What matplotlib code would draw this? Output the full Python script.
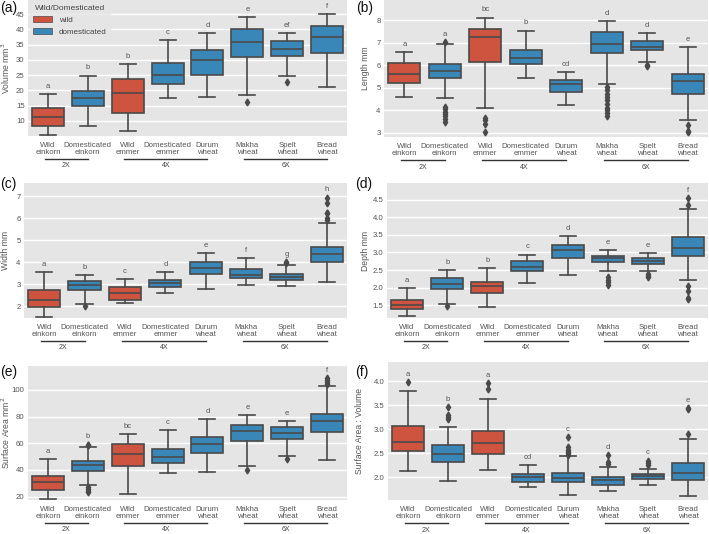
import matplotlib
matplotlib.use("Agg")
import matplotlib.pyplot as plt
import matplotlib.transforms as mtransforms
from matplotlib.patches import Patch


CATEGORIES = [
    "Wild\neinkorn", "Domesticated\neinkorn", "Wild\nemmer", "Domesticated\nemmer",
    "Durum\nwheat", "Makha\nwheat", "Spelt\nwheat", "Bread\nwheat",
]
IS_WILD = [True, False, True, False, False, False, False, False]
PLOIDY = [("2X", 0, 1), ("4X", 2, 4), ("6X", 5, 7)]

# (whisker low, q1, median, q3, whisker high) per category
VOLUME_STATS = [
    (5.3, 8.3, 11.2, 14.1, 18.7), (8.4, 15.0, 17.4, 19.9, 24.8),
    (6.5, 12.7, 19.0, 23.8, 28.5), (17.3, 22.2, 25.1, 29.1, 36.4),
    (17.8, 25.1, 29.9, 33.3, 38.8), (18.6, 31.0, 35.8, 40.0, 44.1),
    (24.8, 31.1, 33.6, 36.0, 38.8), (21.0, 32.1, 37.5, 41.2, 45.0),
]
VOLUME_FLIERS = [[], [], [], [], [], [16.2], [22.8], []]
VOLUME_LETTERS = ["a", "b", "b", "c", "d", "e", "ef", "f"]

LENGTH_STATS = [
    (4.59, 5.21, 5.63, 6.11, 6.58), (4.53, 5.42, 5.77, 6.04, 6.94),
    (4.11, 6.17, 7.28, 7.62, 8.12), (5.42, 6.05, 6.33, 6.66, 7.54),
    (4.25, 4.81, 5.15, 5.35, 5.71), (5.15, 6.54, 6.94, 7.50, 7.97),
    (6.13, 6.67, 6.80, 7.07, 7.42), (3.56, 4.74, 5.32, 5.63, 6.80),
]
LENGTH_FLIERS = [
    [],
    [7.03, 4.15, 4.05, 3.95, 3.85, 3.75, 3.6, 3.5],
    [3.66, 3.56, 3.41, 3.03],
    [],
    [],
    [5.04, 4.9, 4.75, 4.6, 4.45, 4.3, 4.1, 4.0, 3.9, 3.75],
    [6.02, 5.95],
    [3.37, 3.1, 3.03],
]
LENGTH_LETTERS = ["a", "a", "bc", "b", "cd", "d", "d", "e"]

WIDTH_STATS = [
    (1.52, 1.97, 2.27, 2.72, 3.54), (2.09, 2.75, 2.98, 3.16, 3.40),
    (2.15, 2.30, 2.60, 2.86, 3.23), (2.60, 2.90, 3.08, 3.20, 3.57),
    (2.80, 3.45, 3.73, 4.00, 4.42), (2.98, 3.27, 3.43, 3.69, 4.20),
    (2.93, 3.19, 3.33, 3.49, 3.87), (3.10, 4.00, 4.36, 4.71, 5.80),
]
WIDTH_FLIERS = [[], [2.03], [], [], [], [], [4.02, 3.96],
                [5.92, 6.02, 6.22, 6.26, 6.67, 6.94]]
WIDTH_LETTERS = ["a", "b", "c", "d", "e", "f", "g", "h"]

DEPTH_STATS = [
    (1.19, 1.40, 1.52, 1.64, 1.98), (1.53, 1.97, 2.11, 2.27, 2.50),
    (1.46, 1.84, 2.04, 2.15, 2.55), (2.13, 2.48, 2.60, 2.75, 2.94),
    (2.37, 2.85, 3.08, 3.21, 3.47), (2.48, 2.72, 2.84, 2.91, 3.07),
    (2.46, 2.67, 2.76, 2.83, 2.97), (2.21, 2.91, 3.12, 3.43, 4.24),
]
DEPTH_FLIERS = [[], [1.49], [], [], [], [2.30, 2.22, 2.15, 2.08],
                [2.39, 2.33, 2.30], [2.04, 1.90, 1.71, 1.67, 4.34, 4.55]]
DEPTH_LETTERS = ["a", "b", "b", "c", "d", "e", "e", "f"]

AREA_STATS = [
    (18.3, 25.2, 30.7, 35.7, 48.3), (29.0, 39.1, 43.6, 46.6, 57.0),
    (22.0, 43.1, 51.8, 59.3, 66.7), (37.4, 45.3, 49.8, 55.8, 69.7),
    (38.6, 52.8, 59.5, 64.5, 78.1), (43.1, 61.5, 69.4, 73.7, 81.4),
    (50.8, 63.0, 67.7, 71.9, 76.6), (47.6, 68.2, 76.9, 82.1, 102.7),
]
AREA_FLIERS = [[], [27.5, 26.0, 24.5, 23.2, 59.0, 58.5], [], [], [], [39.9],
               [48.1], [104.5, 106.2, 107.7, 109.2]]
AREA_LETTERS = ["a", "b", "bc", "c", "d", "e", "e", "f"]

RATIO_STATS = [
    (2.14, 2.55, 2.74, 3.07, 3.79), (1.93, 2.33, 2.49, 2.67, 3.04),
    (2.15, 2.48, 2.71, 2.96, 3.64), (1.79, 1.91, 2.01, 2.07, 2.26),
    (1.63, 1.90, 1.98, 2.10, 2.44), (1.72, 1.85, 1.94, 2.01, 2.22),
    (1.85, 1.97, 2.03, 2.08, 2.18), (1.61, 1.94, 2.09, 2.30, 2.79),
]
RATIO_FLIERS = [[3.99], [3.47, 3.30, 3.25, 3.22], [3.97, 3.83], [],
                [2.84, 2.63, 2.58, 2.53, 2.50, 2.47], [2.31, 2.28, 2.46],
                [2.35, 2.30, 2.25], [2.90, 3.43, 3.45]]
RATIO_LETTERS = ["a", "b", "a", "cd", "c", "d", "c", "e"]

WILD_COLOR = "#CF5440"
DOM_COLOR = "#3987B9"
LINE_COLOR = "#4a4a4a"
TEXT_COLOR = "#555555"

plt.rcParams["font.family"] = ["Liberation Sans", "DejaVu Sans"]

# tag, ylabel, stats, fliers, letters, ylim, yticks,
# axes box (left, top, right, bottom) px, tag position (x, y) px, ylabel x px
PANELS = [
    ("(a)", "Volume mm$^3$", VOLUME_STATS, VOLUME_FLIERS, VOLUME_LETTERS,
     (5.0, 49.6), [10, 15, 20, 25, 30, 35, 40, 45], (28, 0, 347, 136), (0, 8), 6),
    ("(b)", "Length mm", LENGTH_STATS, LENGTH_FLIERS, LENGTH_LETTERS,
     (2.82, 8.9), [3, 4, 5, 6, 7, 8], (384, 0, 708, 137), (356, 8), 365),
    ("(c)", "Width mm", WIDTH_STATS, WIDTH_FLIERS, WIDTH_LETTERS,
     (1.47, 7.6), [2, 3, 4, 5, 6, 7], (24, 183, 347, 318), (0, 184), 5),
    ("(d)", "Depth mm", DEPTH_STATS, DEPTH_FLIERS, DEPTH_LETTERS,
     (1.14, 4.97), [1.5, 2.0, 2.5, 3.0, 3.5, 4.0, 4.5], (387, 183, 708, 318), (355, 184), 365),
    ("(e)", "Surface Area mm$^2$", AREA_STATS, AREA_FLIERS, AREA_LETTERS,
     (17.5, 118), [20, 40, 60, 80, 100], (28, 366, 347, 500), (0, 372), 6),
    ("(f)", "Surface Area : Volume", RATIO_STATS, RATIO_FLIERS, RATIO_LETTERS,
     (1.53, 4.40), [2.0, 2.5, 3.0, 3.5, 4.0], (388, 362, 708, 500), (355, 372), 360),
]

W, H = 709, 534


def draw_panel(fig, tag, ylabel, stats, fliers, letters, ylim, yticks, box, tag_xy, label_x):
    left, top, right, bottom = box
    ax = fig.add_axes([left / W, 1 - bottom / H, (right - left) / W, (bottom - top) / H])
    ax.set_facecolor("#E5E5E5")
    for spine in ax.spines.values():
        spine.set_visible(False)
    ax.grid(axis="y", color="white", linewidth=1.0)
    ax.set_axisbelow(True)

    bxp_stats = []
    for (lo, q1, med, q3, hi), fl in zip(stats, fliers):
        bxp_stats.append({"whislo": lo, "q1": q1, "med": med, "q3": q3,
                          "whishi": hi, "fliers": fl})
    positions = list(range(len(stats)))
    art = ax.bxp(
        bxp_stats, positions=positions, widths=0.8, patch_artist=True,
        boxprops=dict(edgecolor=LINE_COLOR, linewidth=1.2),
        medianprops=dict(color=LINE_COLOR, linewidth=1.2),
        whiskerprops=dict(color=LINE_COLOR, linewidth=1.2),
        capprops=dict(color=LINE_COLOR, linewidth=1.2),
        flierprops=dict(marker="d", markersize=3.5, markerfacecolor=LINE_COLOR,
                        markeredgecolor=LINE_COLOR),
        capwidths=0.4,
    )
    for patch, wild in zip(art["boxes"], IS_WILD):
        patch.set_facecolor(WILD_COLOR if wild else DOM_COLOR)

    for i, ((lo, q1, med, q3, hi), fl, letter) in enumerate(zip(stats, fliers, letters)):
        top_val = max([hi] + fl)
        ax.annotate(letter, (i, top_val), xytext=(0, 3), textcoords="offset points",
                    ha="center", va="bottom", fontsize=5.5, color=TEXT_COLOR)

    ax.set_xlim(-0.5, len(stats) - 0.5)
    ax.set_ylim(*ylim)
    ax.set_yticks(yticks)
    ax.set_xticks(positions)
    ax.set_xticklabels(CATEGORIES, fontsize=5.6, color=TEXT_COLOR, linespacing=1.0)
    ax.tick_params(axis="y", labelsize=5.6, labelcolor=TEXT_COLOR, length=0, pad=2.5)
    ax.tick_params(axis="x", length=0, pad=4)
    ax.set_ylabel(ylabel, fontsize=6.2, color=TEXT_COLOR)
    ax.yaxis.set_label_coords((label_x - left) / (right - left), 0.5)
    ax.yaxis.label.set_va("center")

    trans = mtransforms.blended_transform_factory(ax.transData, ax.transAxes)
    for name, start, end in PLOIDY:
        ax.plot([start - 0.08, end], [-0.17, -0.17], color="#333333", linewidth=1.0,
                transform=trans, clip_on=False)
        ax.text((start + end) / 2 - 0.04, -0.22, name, transform=trans, ha="center",
                va="center", fontsize=5.0, color="#444444")

    fig.text(tag_xy[0] / W, 1 - tag_xy[1] / H, tag,
             fontsize=10, ha="left", va="center", color="#111111")
    return ax


def main() -> None:
    fig = plt.figure(figsize=(W / 100, H / 100), dpi=100)
    for panel in PANELS:
        ax = draw_panel(fig, *panel)
        if panel[0] == "(a)":
            handles = [Patch(facecolor=WILD_COLOR, edgecolor=LINE_COLOR, linewidth=0.5, label="wild"),
                       Patch(facecolor=DOM_COLOR, edgecolor=LINE_COLOR, linewidth=0.5, label="domesticated")]
            leg = ax.legend(handles=handles, title="Wild/Domesticated", loc="upper left",
                            fontsize=5.8, title_fontsize=6.0, frameon=True,
                            facecolor="#E5E5E5", edgecolor="#E5E5E5",
                            handlelength=2.4, handleheight=0.8, borderaxespad=0.2)
            leg.get_title().set_color("#444444")
            for t in leg.get_texts():
                t.set_color("#444444")
    fig.savefig("out.png", dpi=100)


if __name__ == "__main__":
    main()
